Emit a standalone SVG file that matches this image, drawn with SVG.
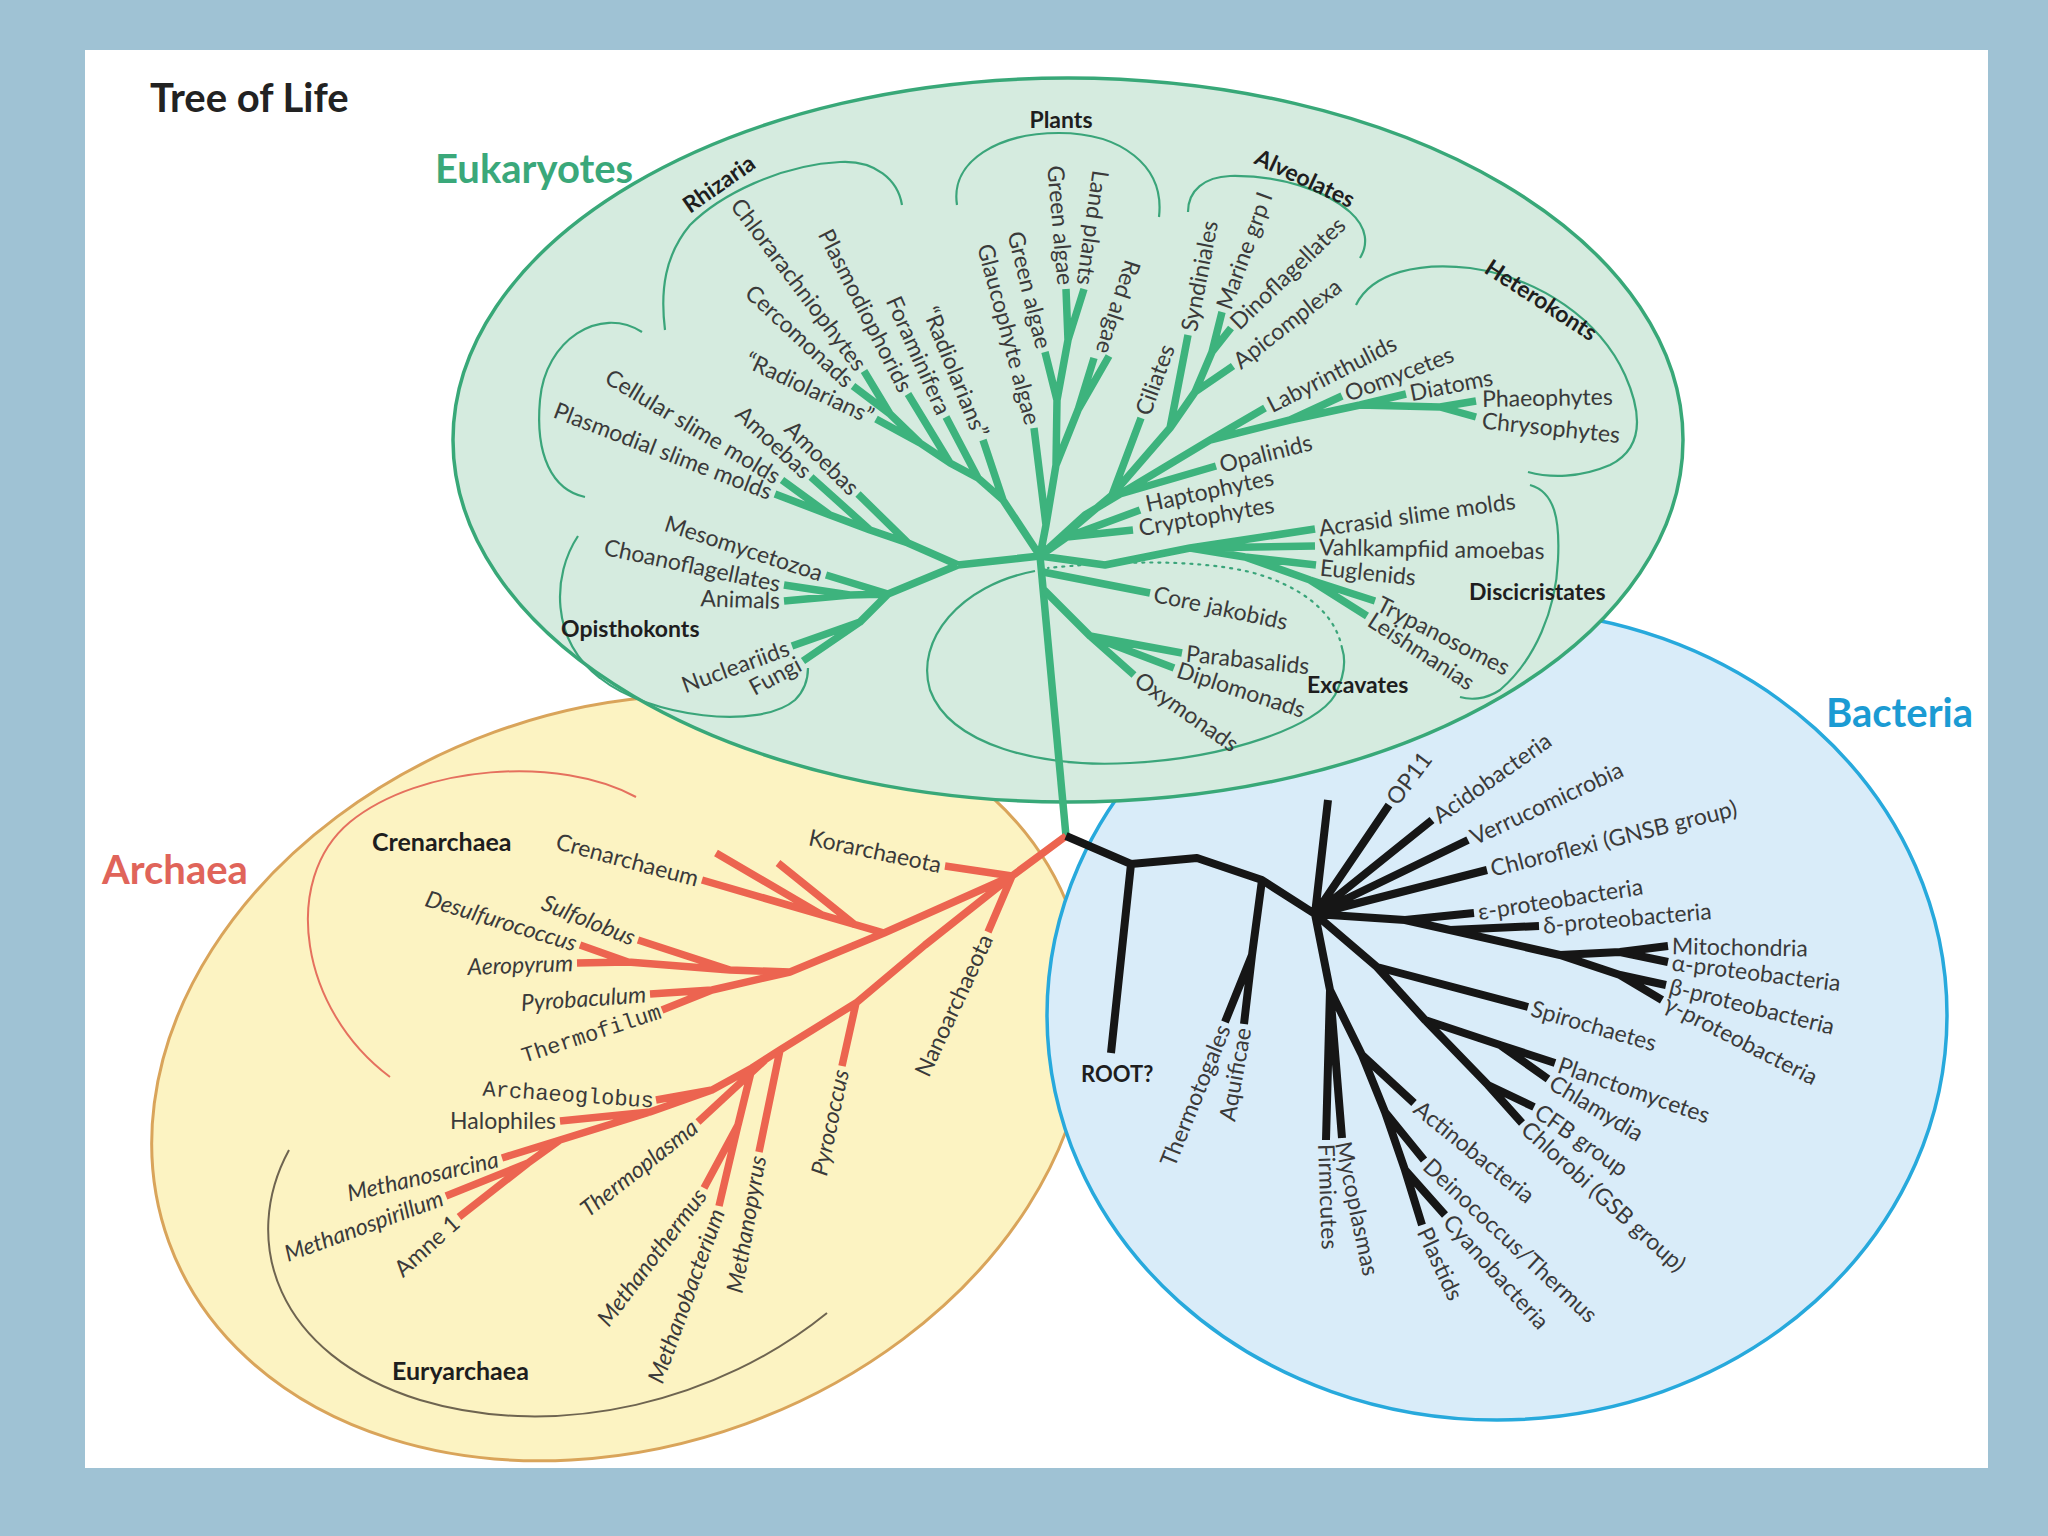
<svg xmlns="http://www.w3.org/2000/svg" width="2048" height="1536" viewBox="0 0 2048 1536">
<style>
.l{font-family:Lato,"Open Sans","DejaVu Sans",sans-serif;font-size:23px;fill:#3a3a3a}
.b{font-weight:bold;fill:#1e1e1e}
.i{font-style:italic}
.m{font-family:"Liberation Mono","DejaVu Sans Mono",monospace;font-size:22px}
.big{font-family:Lato,"Open Sans",sans-serif;font-weight:bold;font-size:40px}
.g{fill:none;stroke:#3db37d;stroke-width:7.5;stroke-linejoin:round}
.r{fill:none;stroke:#ec6450;stroke-width:7.5;stroke-linejoin:round}
.k{fill:none;stroke:#161616;stroke-width:8;stroke-linejoin:round}
.gb{fill:none;stroke:#3aa57a;stroke-width:2.2}
</style>
<rect width="2048" height="1536" fill="#9fc2d4"/>
<rect x="85" y="50" width="1903" height="1418" fill="#ffffff"/>

<g id="title"><text class="big" x="150" y="112" fill="#222" font-size="45">Tree of Life</text></g>

<g id="archaea-domain">
<ellipse cx="620" cy="1078" rx="480" ry="368" transform="rotate(-20 620 1078)" fill="#fcf3c2" stroke="#d9a45a" stroke-width="3"/>
</g>
<g id="bacteria-domain">
<ellipse cx="1497" cy="1015" rx="450" ry="405" fill="#d9ecf9" stroke="#27a9dc" stroke-width="3.5"/>
</g>
<g id="eukaryote-domain">
<ellipse cx="1068" cy="440" rx="615" ry="362" fill="#d5ebdf" stroke="#38a878" stroke-width="3.5"/>
</g>

<g id="domain-labels">
<text class="big" x="435" y="183" fill="#3aa87a">Eukaryotes</text>
<text class="big" x="102" y="884" fill="#e0645a">Archaea</text>
<text class="big" x="1826" y="727" fill="#1b9bd3">Bacteria</text>
</g>

<g id="brackets">
<path class="gb" d="M665 330 C660 290, 665 255, 690 225 C720 195, 780 165, 840 162 C875 160, 898 180, 902 205"/>
<path class="gb" d="M957 205 C950 160, 1000 133, 1059 133 C1120 133, 1165 165, 1159 217"/>
<path class="gb" d="M1188 212 C1188 190, 1205 177, 1230 176 C1280 175, 1325 190, 1350 212 C1368 228, 1368 245, 1360 258"/>
<path class="gb" d="M1356 305 C1372 272, 1420 262, 1470 268 C1540 278, 1600 320, 1625 375 C1645 420, 1640 450, 1610 465 C1580 478, 1550 478, 1528 472"/>
<path class="gb" d="M1530 485 C1555 492, 1560 520, 1558 560 C1556 610, 1535 660, 1500 690 C1485 700, 1470 700, 1460 697"/>
<path class="gb" d="M1035 571 C960 585, 915 640, 930 690 C950 745, 1040 768, 1130 763 C1230 758, 1318 725, 1335 695 C1345 675, 1346 660, 1342 648"/>
<path class="gb" stroke-width="2.6" stroke-dasharray="2 6" stroke-linecap="round" d="M1342 648 C1335 612, 1300 585, 1250 572 C1190 558, 1110 562, 1048 568"/>
<path class="gb" d="M578 536 C552 575, 550 640, 600 678 C650 718, 760 730, 795 700 C805 690, 808 680, 808 668"/>
<path class="gb" d="M642 332 C600 305, 545 340, 540 400 C535 455, 552 490, 585 497"/>
<path fill="none" stroke="#e5705e" stroke-width="2" d="M636 797 C560 755, 420 765, 350 822 C280 880, 300 1010, 390 1077"/>
<path fill="none" stroke="#6e6450" stroke-width="2" d="M289 1150 C240 1240, 275 1355, 420 1400 C560 1442, 720 1400, 827 1313"/>
</g>

<g id="connectors">
<path class="g" stroke-width="5" d="M1040 556 L1066 836"/>
<path class="g" d="M1040 556 L958 565 M958 565 L908 543 L858 494 M908 543 L870 530 L811 477 M870 530 L830 515 L782 480 M830 515 L775 494 M958 565 L888 594 L826 575 M888 594 L850 595 L784 585 M850 595 L784 601 M888 594 L860 622 L792 646 M860 622 L803 661
M1040 556 L1003 500 L983 440 M1003 500 L978 478 L946 417 M978 478 L950 463 L908 394 M950 463 L920 443 L876 419 M920 443 L890 414 L864 371 M890 414 L853 386
M1040 556 L1046 525 L1034 428 M1046 525 L1056 465 L1057 400 L1045 352 M1057 400 L1068 340 L1066 289 M1068 340 L1084 289 M1056 465 L1078 410 L1094 358 M1078 410 L1109 356
M1040 556 L1112 495 L1141 418 M1112 495 L1170 428 L1188 335 M1170 428 L1195 392 L1233 366 M1195 392 L1212 352 L1222 312 M1212 352 L1231 328
M1040 556 L1085 515 L1120 494 L1210 440 L1265 408 M1120 494 L1216 466 M1210 440 L1290 420 L1342 396 M1290 420 L1360 405 L1406 394 M1360 405 L1440 407 L1476 401 M1440 407 L1476 417
M1040 556 L1067 537 L1140 510 M1067 537 L1133 530
M1040 556 L1105 565 L1190 548 L1315 529 M1190 548 L1315 546 M1190 548 L1245 557 L1316 565 M1245 557 L1310 580 L1375 601 M1310 580 L1367 616
M1043 572 L1150 593
M1044 590 L1090 636 L1182 653 M1090 636 L1174 668 M1090 636 L1134 675"/>
<path class="r" d="M1066 836 L1012 876 M1012 876 L945 866 M1012 876 L988 932
M1012 876 L884 933 L702 880 M822 915 L716 853 M855 925 L778 863
M884 933 L790 972 L730 970 L638 940 M730 970 L628 962 L580 945 M628 962 L577 963 M790 972 L712 990 L650 994 M712 990 L662 1010
M1012 876 L925 945 L856 1003 L780 1050 L752 1068 L712 1090 L650 1112 L560 1140 L502 1158
M856 1003 L842 1066 M780 1050 L759 1152 M752 1068 L738 1125 L704 1188 M738 1125 L719 1206 M765 1060 L698 1122 M712 1090 L656 1100 M650 1112 L560 1121 M560 1140 L528 1163 L446 1196 M528 1163 L459 1217"/>
<path class="k" d="M1066 836 L1131 864 L1197 858 L1262 880 L1315 914 M1131 864 L1111 1053 M1262 880 L1252 955 L1225 1022 M1252 955 L1244 1024
M1315 914 L1328 800 M1315 914 L1389 805 M1315 914 L1432 820 M1315 914 L1468 840 M1315 914 L1487 870
M1315 914 L1405 920 L1474 913 M1405 920 L1450 930 L1539 926 M1450 930 L1560 955 L1620 952 L1668 946 M1620 952 L1668 962 M1560 955 L1620 975 L1666 985 M1620 975 L1662 1000
M1315 914 L1377 967 L1528 1007 M1377 967 L1425 1020 L1500 1045 L1555 1063 M1500 1045 L1548 1079 M1425 1020 L1488 1085 L1534 1107 M1488 1085 L1522 1123
M1315 914 L1330 990 L1326 1140 M1330 990 L1342 1138 M1330 990 L1362 1055 L1414 1103 M1362 1055 L1385 1112 L1424 1160 M1385 1112 L1405 1170 L1445 1215 M1405 1170 L1422 1225"/>
</g>

<g id="group-labels" class="l b">
<text transform="translate(690 214) rotate(-35)">Rhizaria</text>
<text x="1061" y="128" text-anchor="middle">Plants</text>
<text transform="translate(1253 163) rotate(25)">Alveolates</text>
<text transform="translate(1483 272) rotate(33)">Heterokonts</text>
<text x="1469" y="600">Discicristates</text>
<text x="1307" y="693">Excavates</text>
<text x="561" y="637">Opisthokonts</text>
<text x="372" y="851" font-size="25">Crenarchaea</text>
<text x="392" y="1380" font-size="25">Euryarchaea</text>
<text x="1081" y="1082" font-size="22">ROOT?</text>
</g>

<g id="eukaryote-taxa" class="l">
<text transform="translate(864 371) rotate(53)" x="-4" dy=".35em" text-anchor="end">Chlorarachniophytes</text>
<text transform="translate(853 386) rotate(43)" x="-4" dy=".35em" text-anchor="end">Cercomonads</text>
<text transform="translate(876 419) rotate(25)" x="-4" dy=".35em" text-anchor="end">“Radiolarians”</text>
<text transform="translate(908 394) rotate(63)" x="-4" dy=".35em" text-anchor="end">Plasmodiophorids</text>
<text transform="translate(946 417) rotate(66)" x="-4" dy=".35em" text-anchor="end">Foraminifera</text>
<text transform="translate(983 440) rotate(68)" x="-4" dy=".35em" text-anchor="end">“Radiolarians”</text>
<text transform="translate(1034 428) rotate(75)" x="-4" dy=".35em" text-anchor="end">Glaucophyte algae</text>
<text transform="translate(1045 352) rotate(76)" x="-4" dy=".35em" text-anchor="end">Green algae</text>
<text transform="translate(1066 289) rotate(85)" x="-4" dy=".35em" text-anchor="end">Green algae</text>
<text transform="translate(1084 289) rotate(98)" x="-4" dy=".35em" text-anchor="end">Land plants</text>
<text transform="translate(1102 357) rotate(108)" x="-4" dy=".35em" text-anchor="end">Red algae</text>
<text transform="translate(1141 418) rotate(-70)" x="4" dy=".35em">Ciliates</text>
<text transform="translate(1188 335) rotate(-79)" x="4" dy=".35em">Syndiniales</text>
<text transform="translate(1222 312) rotate(-70)" x="4" dy=".35em">Marine grp I</text>
<text transform="translate(1231 328) rotate(-44)" x="4" dy=".35em">Dinoflagellates</text>
<text transform="translate(1233 366) rotate(-38)" x="4" dy=".35em">Apicomplexa</text>
<text transform="translate(1265 408) rotate(-27)" x="4" dy=".35em">Labyrinthulids</text>
<text transform="translate(1342 396) rotate(-21)" x="4" dy=".35em">Oomycetes</text>
<text transform="translate(1406 394) rotate(-11)" x="4" dy=".35em">Diatoms</text>
<text transform="translate(1478 399) rotate(-1)" x="4" dy=".35em">Phaeophytes</text>
<text transform="translate(1478 420) rotate(6)" x="4" dy=".35em">Chrysophytes</text>
<text transform="translate(1216 466) rotate(-14)" x="4" dy=".35em">Opalinids</text>
<text transform="translate(1142 505) rotate(-12)" x="4" dy=".35em">Haptophytes</text>
<text transform="translate(1135 529) rotate(-10)" x="4" dy=".35em">Cryptophytes</text>
<text transform="translate(1315 529) rotate(-8)" x="4" dy=".35em">Acrasid slime molds</text>
<text transform="translate(1315 547) rotate(1)" x="4" dy=".35em">Vahlkampfiid amoebas</text>
<text transform="translate(1316 567) rotate(6)" x="4" dy=".35em">Euglenids</text>
<text transform="translate(1375 601) rotate(27)" x="4" dy=".35em">Trypanosomes</text>
<text transform="translate(1367 616) rotate(33)" x="4" dy=".35em">Leishmanias</text>
<text transform="translate(1150 593) rotate(12)" x="4" dy=".35em">Core jakobids</text>
<text transform="translate(1182 653) rotate(6)" x="4" dy=".35em">Parabasalids</text>
<text transform="translate(1174 668) rotate(18)" x="4" dy=".35em">Diplomonads</text>
<text transform="translate(1134 675) rotate(35)" x="4" dy=".35em">Oxymonads</text>
<text transform="translate(782 480) rotate(31)" x="-4" dy=".35em" text-anchor="end">Cellular slime molds</text>
<text transform="translate(775 494) rotate(21)" x="-4" dy=".35em" text-anchor="end">Plasmodial slime molds</text>
<text transform="translate(811 477) rotate(43)" x="-4" dy=".35em" text-anchor="end">Amoebas</text>
<text transform="translate(858 494) rotate(45)" x="-4" dy=".35em" text-anchor="end">Amoebas</text>
<text transform="translate(826 575) rotate(18)" x="-4" dy=".35em" text-anchor="end">Mesomycetozoa</text>
<text transform="translate(784 585) rotate(12)" x="-4" dy=".35em" text-anchor="end">Choanoflagellates</text>
<text transform="translate(784 601) rotate(2)" x="-4" dy=".35em" text-anchor="end">Animals</text>
<text transform="translate(792 646) rotate(-20)" x="-4" dy=".35em" text-anchor="end">Nucleariids</text>
<text transform="translate(803 661) rotate(-28)" x="-4" dy=".35em" text-anchor="end">Fungi</text>
</g>

<g id="archaea-taxa" class="l">
<text transform="translate(945 866) rotate(12)" x="-4" dy=".35em" text-anchor="end">Korarchaeota</text>
<text transform="translate(702 880) rotate(15)" x="-4" dy=".35em" text-anchor="end">Crenarchaeum</text>
<text class="l i" transform="translate(638 940) rotate(22)" x="-4" dy=".35em" text-anchor="end">Sulfolobus</text>
<text class="l i" transform="translate(580 945) rotate(17)" x="-4" dy=".35em" text-anchor="end">Desulfurococcus</text>
<text class="l i" transform="translate(577 963) rotate(-2)" x="-4" dy=".35em" text-anchor="end">Aeropyrum</text>
<text class="l i" transform="translate(650 994) rotate(-4)" x="-4" dy=".35em" text-anchor="end">Pyrobaculum</text>
<text class="l m" transform="translate(662 1010) rotate(-18)" x="-2" dy=".35em" text-anchor="end">Thermofilum</text>
<text class="l m" transform="translate(656 1100) rotate(4)" x="-2" dy=".35em" text-anchor="end">Archaeoglobus</text>
<text transform="translate(560 1121)" x="-4" dy=".35em" text-anchor="end">Halophiles</text>
<text class="l i" transform="translate(502 1158) rotate(-13)" x="-4" dy=".35em" text-anchor="end">Methanosarcina</text>
<text class="l i" transform="translate(446 1196) rotate(-20)" x="-4" dy=".35em" text-anchor="end">Methanospirillum</text>
<text transform="translate(459 1217) rotate(-42)" x="-4" dy=".35em" text-anchor="end">Amne 1</text>
<text class="l i" transform="translate(698 1122) rotate(-38)" x="-4" dy=".35em" text-anchor="end">Thermoplasma</text>
<text class="l i" transform="translate(704 1188) rotate(-53)" x="-4" dy=".35em" text-anchor="end">Methanothermus</text>
<text class="l i" transform="translate(719 1206) rotate(-70)" x="-4" dy=".35em" text-anchor="end">Methanobacterium</text>
<text class="l i" transform="translate(759 1152) rotate(-80)" x="-4" dy=".35em" text-anchor="end">Methanopyrus</text>
<text class="l i" transform="translate(842 1066) rotate(-78)" x="-4" dy=".35em" text-anchor="end">Pyrococcus</text>
<text transform="translate(988 932) rotate(-65)" x="-4" dy=".35em" text-anchor="end">Nanoarchaeota</text>
</g>

<g id="bacteria-taxa" class="l">
<text transform="translate(1389 805) rotate(-53)" x="4" dy=".35em">OP11</text>
<text transform="translate(1432 820) rotate(-35)" x="4" dy=".35em">Acidobacteria</text>
<text transform="translate(1468 840) rotate(-25)" x="4" dy=".35em">Verrucomicrobia</text>
<text transform="translate(1487 870) rotate(-14)" x="4" dy=".35em">Chloroflexi (GNSB group)</text>
<text transform="translate(1474 913) rotate(-9)" x="4" dy=".35em">ε-proteobacteria</text>
<text transform="translate(1539 926) rotate(-5)" x="4" dy=".35em">δ-proteobacteria</text>
<text transform="translate(1668 946) rotate(1)" x="4" dy=".35em">Mitochondria</text>
<text transform="translate(1668 962) rotate(7)" x="4" dy=".35em">α-proteobacteria</text>
<text transform="translate(1666 985) rotate(14)" x="4" dy=".35em">β-proteobacteria</text>
<text transform="translate(1662 1000) rotate(27)" x="4" dy=".35em">γ-proteobacteria</text>
<text transform="translate(1528 1007) rotate(16)" x="4" dy=".35em">Spirochaetes</text>
<text transform="translate(1555 1063) rotate(19)" x="4" dy=".35em">Planctomycetes</text>
<text transform="translate(1548 1079) rotate(31)" x="4" dy=".35em">Chlamydia</text>
<text transform="translate(1534 1107) rotate(35)" x="4" dy=".35em">CFB group</text>
<text transform="translate(1522 1123) rotate(42)" x="4" dy=".35em">Chlorobi (GSB group)</text>
<text transform="translate(1414 1103) rotate(39)" x="4" dy=".35em">Actinobacteria</text>
<text transform="translate(1424 1160) rotate(43)" x="4" dy=".35em">Deinococcus/Thermus</text>
<text transform="translate(1445 1215) rotate(48)" x="4" dy=".35em">Cyanobacteria</text>
<text transform="translate(1422 1225) rotate(65)" x="4" dy=".35em">Plastids</text>
<text transform="translate(1342 1138) rotate(78)" x="4" dy=".35em">Mycoplasmas</text>
<text transform="translate(1326 1140) rotate(88)" x="4" dy=".35em">Firmicutes</text>
<text transform="translate(1225 1022) rotate(-68)" x="-4" dy=".35em" text-anchor="end">Thermotogales</text>
<text transform="translate(1244 1024) rotate(-80)" x="-4" dy=".35em" text-anchor="end">Aquificae</text>
</g>
</svg>
